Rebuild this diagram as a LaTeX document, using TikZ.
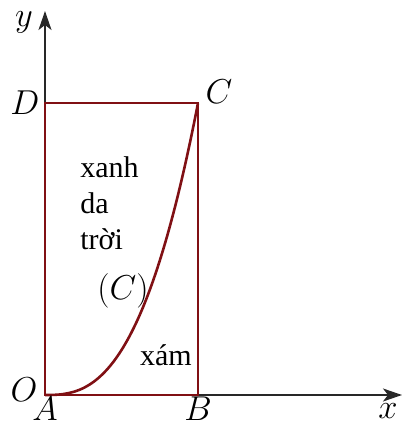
\documentclass[tikz,border=0pt]{standalone}
\usepackage{fontspec}
\usepackage{xcolor}
\usepackage{amsmath}
\newfontfamily\vietfont{Liberation Serif}
\usetikzlibrary{arrows.meta}
\definecolor{boxred}{RGB}{128,16,20}
\definecolor{axisgray}{RGB}{40,40,40}

\begin{document}
\begin{tikzpicture}[x=0.5pt, y=0.5pt,
    axis/.style={axisgray, line width=0.9pt, -{Stealth[length=9.5pt, width=6.5pt, inset=2.5pt]}},
    region/.style={boxred, line width=1.3pt},
    lbl/.style={inner sep=1pt, font=\fontsize{16}{19}\selectfont}]
    \useasboundingbox (-45,-30) rectangle (359,395);

    % points
    \coordinate (O) at (0,0);
    \coordinate (A) at (0,0);
    \coordinate (B) at (153,0);
    \coordinate (C) at (153,292);
    \coordinate (D) at (0,292);
    \coordinate (xend) at (357,0);
    \coordinate (yend) at (0,384);

    % axes
    \draw[axis] (O) -- (xend);
    \draw[axis] (O) -- (yend);

    % rectangle and curve
    \draw[region] (A) -- (B) -- (C) -- (D) -- cycle;
    \draw[region] (A) -- plot[domain=0.01:1, samples=80] ({153*\x},{292*\x^2.7});

    % labels
    \node[lbl] (lblx) at (343,-16) {$x$};
    \node[lbl] (lbly) at (-21,373) {$y$};
    \node[lbl] (lblO) at (-21,5) {$O$};
    \node[lbl] (lblA) at (0,-14) {$A$};
    \node[lbl] (lblB) at (153,-14) {$B$};
    \node[lbl] (lblC) at (174,303) {$C$};
    \node[lbl] (lblD) at (-20,292) {$D$};
    \node[lbl] (lblcurve) at (78,104) {$(C)$};
    \node[font=\vietfont\fontsize{15}{18}\selectfont, align=left, anchor=north west, inner sep=0pt] (blue) at (35,239) {xanh\\da\\trời};
    \node[font=\vietfont\fontsize{15}{18}\selectfont, inner sep=1pt] (gray) at (121,40) {xám};
\end{tikzpicture}
\end{document}
